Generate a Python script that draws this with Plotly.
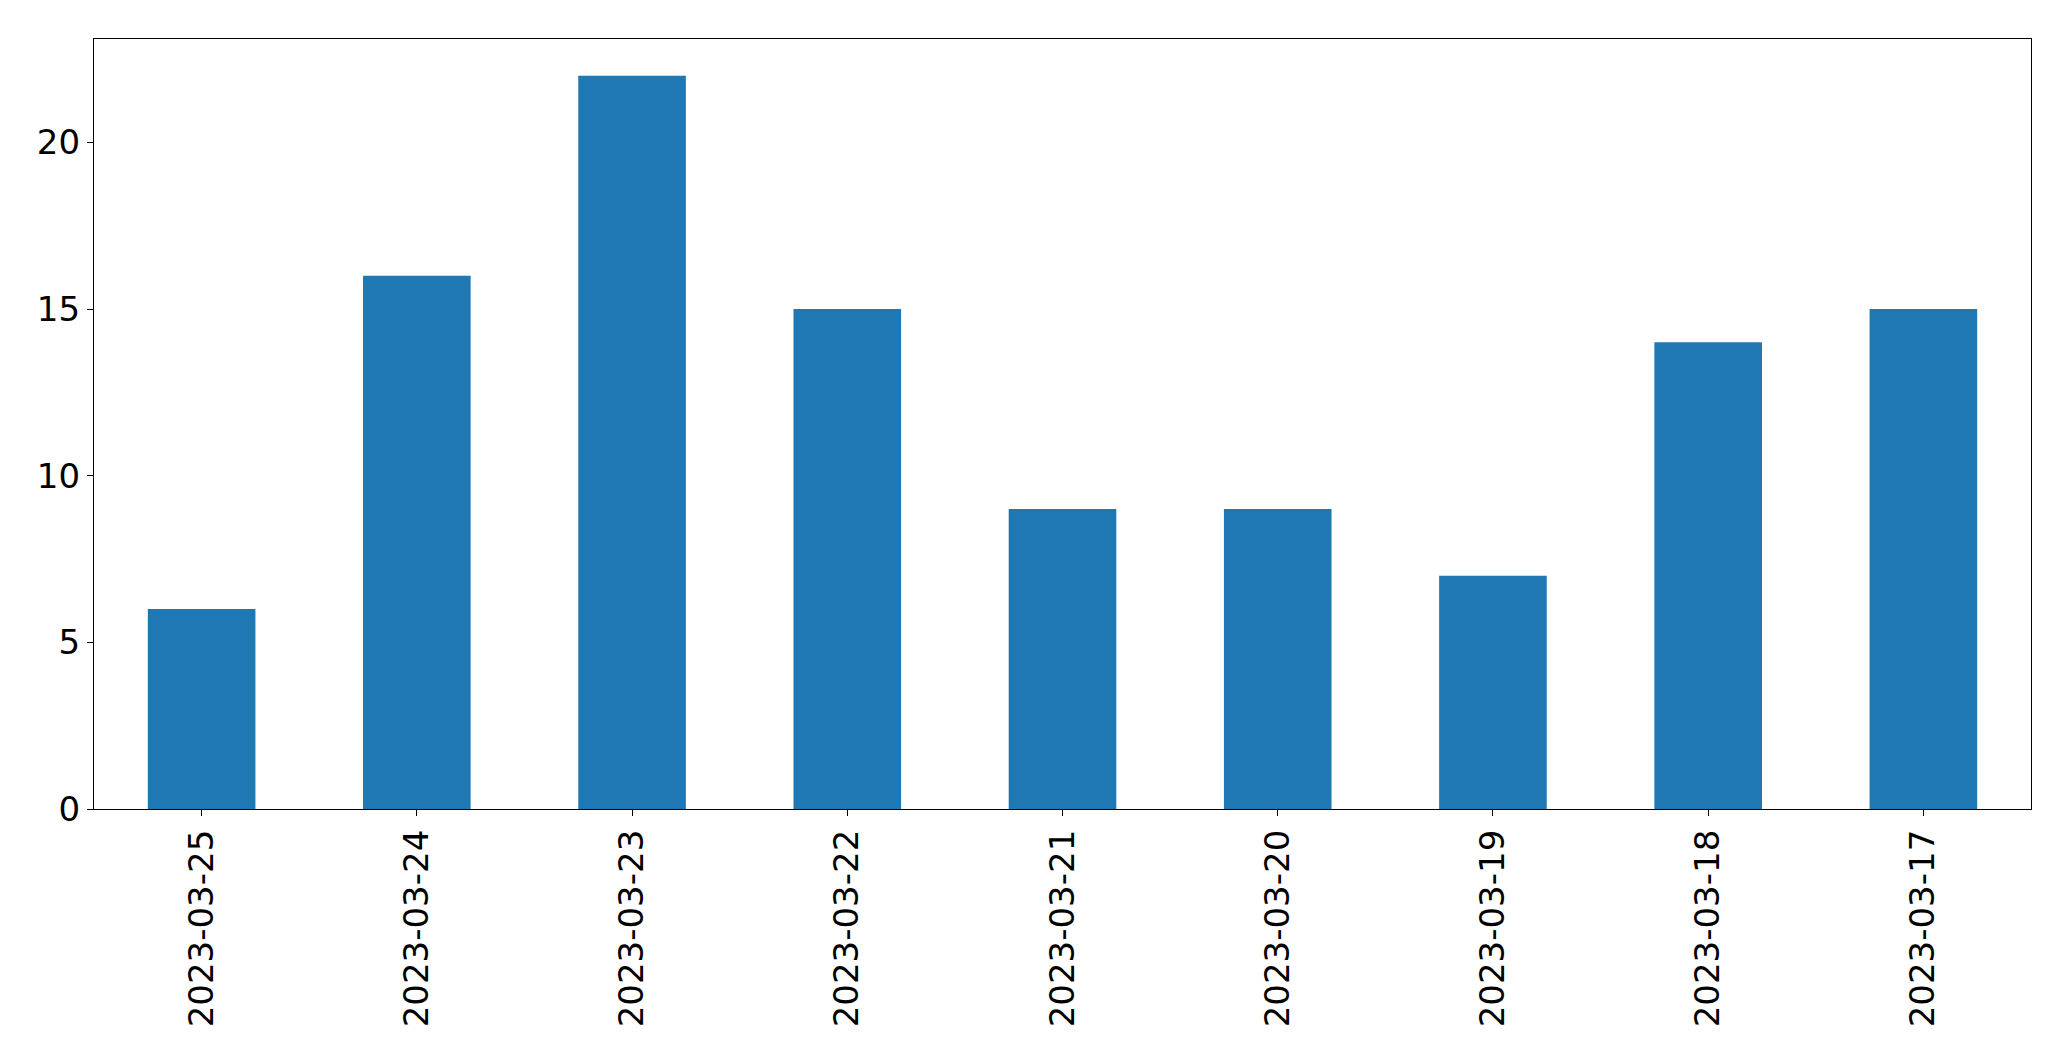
import plotly.graph_objects as go

dates = ["2023-03-25", "2023-03-24", "2023-03-23", "2023-03-22", "2023-03-21",
         "2023-03-20", "2023-03-19", "2023-03-18", "2023-03-17"]
counts = [6, 16, 22, 15, 9, 9, 7, 14, 15]

fig = go.Figure(go.Bar(x=dates, y=counts, marker_color="#1f77b4",
                       marker_line_width=0, width=0.5))

axis_common = dict(showline=True, linecolor="black", linewidth=1.3, mirror=True,
                   ticks="outside", ticklen=6, tickwidth=1.3, tickcolor="black",
                   showgrid=False, zeroline=False,
                   tickfont=dict(family="DejaVu Sans", size=34, color="black"))

fig.update_layout(
    width=2071, height=1061,
    margin=dict(l=86, r=48, t=31, b=260),
    plot_bgcolor="white", paper_bgcolor="white",
    showlegend=False, bargap=0.5,
    xaxis=dict(type="category", range=[-0.5, 8.5], tickangle=-90, **axis_common),
    yaxis=dict(range=[0, 23.1], tickvals=[0, 5, 10, 15, 20], **axis_common),
)

fig.write_html("out.html", config={"displayModeBar": False})
